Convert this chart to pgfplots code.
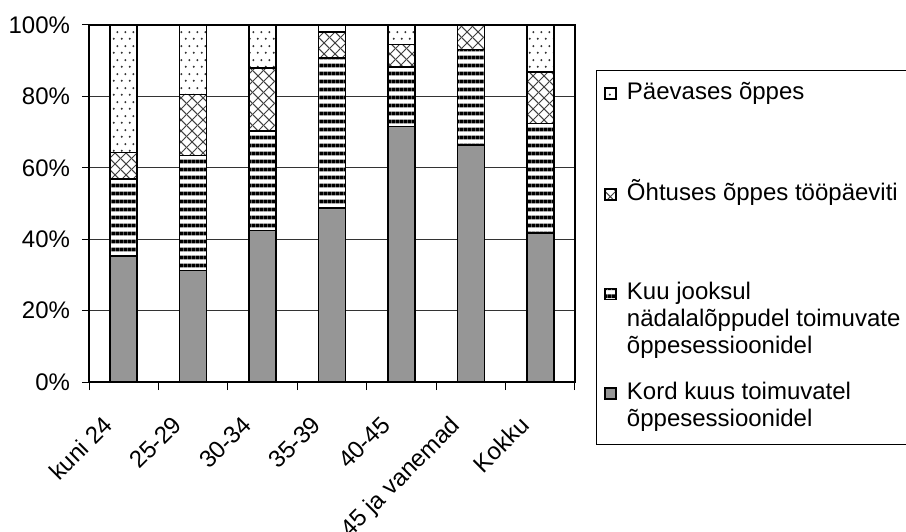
\documentclass[border=0pt]{standalone}
\usepackage{pgfplots}
\pgfplotsset{compat=1.18}
\usepackage{fontspec}
\setmainfont{Liberation Sans}
\usetikzlibrary{patterns.meta}

\tikzdeclarepattern{name=hstripe, type=uncolored,
  bottom left={(0bp,0bp)}, top right={(2bp,3.75bp)}, tile size={(2bp,3.75bp)},
  code={\pgfsetlinewidth{1.9bp}
    \pgfpathmoveto{\pgfpoint{-0.2bp}{1.875bp}}\pgfpathlineto{\pgfpoint{2.2bp}{1.875bp}}
    \pgfusepath{stroke}}}
\tikzdeclarepattern{name=xhatch, type=uncolored,
  bottom left={(0bp,0bp)}, top right={(5.5bp,5.5bp)}, tile size={(5.5bp,5.5bp)},
  code={\pgfsetlinewidth{0.55bp}
    \pgfpathmoveto{\pgfpoint{-0.3bp}{-0.3bp}}\pgfpathlineto{\pgfpoint{5.8bp}{5.8bp}}
    \pgfpathmoveto{\pgfpoint{-0.3bp}{5.8bp}}\pgfpathlineto{\pgfpoint{5.8bp}{-0.3bp}}
    \pgfusepath{stroke}}}
\tikzdeclarepattern{name=sparsedots, type=uncolored,
  bottom left={(0bp,0bp)}, top right={(4bp,7bp)}, tile size={(4bp,7bp)},
  code={\pgfpathcircle{\pgfpoint{1bp}{1.75bp}}{0.6bp}
    \pgfpathcircle{\pgfpoint{3bp}{5.25bp}}{0.6bp}
    \pgfusepath{fill}}}

\definecolor{barGray}{HTML}{969696}

\pgfplotsset{sqleg/.style={legend image code/.code={
  \draw[##1] (0bp,0.3bp) rectangle (5.5bp,5.8bp);}}}

% stacked shares per age group (x = 0..6)
\pgfplotstableread{
x kord kuu ohtu paev
0 35.3 21.5  7.5 35.7
1 31.2 32.2 17.1 19.5
2 42.4 27.9 17.7 12.0
3 48.7 42.0  7.3  2.0
4 71.6 16.7  6.2  5.5
5 66.4 26.8  6.8  0.0
6 41.8 30.6 14.4 13.2
}\shares

\begin{document}
\begin{tikzpicture}
\path[use as bounding box] (0,0) rectangle (453bp,266bp);
\begin{axis}[
    at={(44.5bp,75bp)}, anchor=south west,
    scale only axis,
    width=243bp, height=178.5bp,
    ybar stacked,
    bar width=13.5bp,
    xmin=-0.5, xmax=6.5,
    ymin=0, ymax=100,
    xtick={0,...,6},
    xticklabels={kuni 24, 25-29, 30-34, 35-39, 40-45, 45 ja vanemad, Kokku},
    minor xtick={-0.5,0.5,...,6.5},
    major x tick style={draw=none},
    ytick={0,20,...,100},
    yticklabels={0\%,20\%,40\%,60\%,80\%,100\%},
    tick align=outside,
    xtick pos=left, ytick pos=left,
    tick style={black, line width=0.5bp},
    minor tick length=4bp,
    major tick length=3.5bp,
    ymajorgrids,
    grid style={black!80, line width=0.5bp},
    axis line style={black, line width=0.6bp},
    tick label style={font=\fontsize{12bp}{13.5bp}\selectfont},
    % shifts act in the rotated frame of the label
    xticklabel style={rotate=45, anchor=north east, inner sep=1bp, xshift=-15.6bp, yshift=-0.2bp},
    yticklabel style={xshift=-2.5bp},
    reverse legend,
    legend style={
        at={(axis description cs:1.0432,0.874)}, anchor=north west,
        draw=black, line width=0.5bp, fill=white,
        inner xsep=4bp, inner ysep=5bp,
        column sep=5bp, row sep=0pt,
        font=\fontsize{12bp}{13.5bp}\selectfont,
        nodes={inner sep=0pt, text depth=},
        cells={anchor=base west},
    },
]
\addplot[fill=barGray, draw=black, line width=0.75bp, sqleg]
    table[x=x, y=kord] {\shares};
\addlegendentry{\parbox[t]{160bp}{\strut Kord kuus toimuvatel\\õppesessioonidel\strut}}
\addplot[fill=white, draw=black, line width=0.75bp, sqleg,
    postaction={pattern=hstripe, pattern color=black}]
    table[x=x, y=kuu] {\shares};
\addlegendentry{\parbox[t]{160bp}{\strut Kuu jooksul\\nädalalõppudel toimuvate\\õppesessioonidel\rule[-13.3pt]{0pt}{13.3pt}}}
\addplot[fill=white, draw=black, line width=0.75bp, sqleg,
    postaction={pattern=xhatch, pattern color=black!75}]
    table[x=x, y=ohtu] {\shares};
\addlegendentry{\parbox[t]{160bp}{\strut Õhtuses õppes tööpäeviti\rule[-40.3pt]{0pt}{40.3pt}}}
\addplot[fill=white, draw=black, line width=0.75bp, sqleg,
    postaction={pattern=sparsedots, pattern color=black!80}]
    table[x=x, y=paev] {\shares};
\addlegendentry{\parbox[t]{160bp}{\strut Päevases õppes\rule[-40.3pt]{0pt}{40.3pt}}}
\end{axis}
\end{tikzpicture}
\end{document}
